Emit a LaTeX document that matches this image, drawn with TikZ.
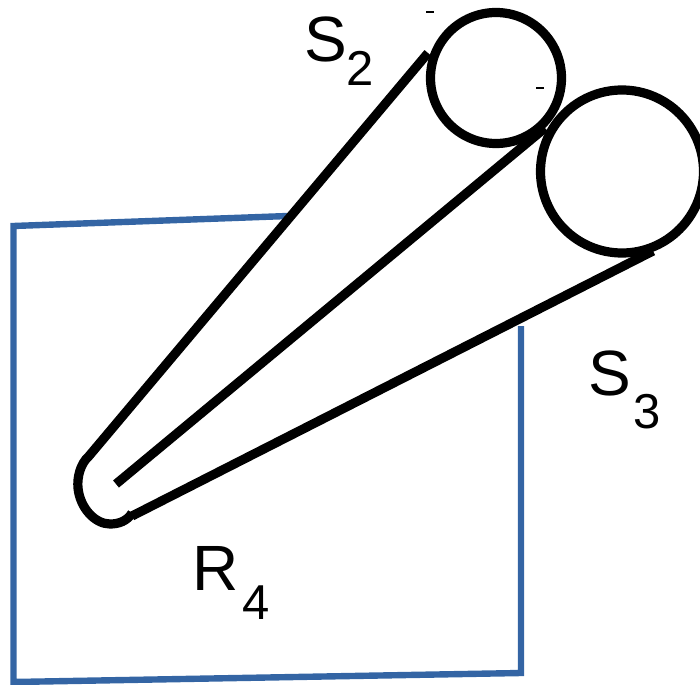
\documentclass[tikz,border=0pt]{standalone}
\usepackage{fontspec}
\setmainfont{Liberation Sans}
\begin{document}
\begin{tikzpicture}[x=1pt,y=-1pt,
  blk/.style={draw=black,line width=9.2pt,line join=round},
  blu/.style={draw=bluecol,line width=6.4pt,line join=miter},
  lab/.style={anchor=base west,inner sep=0pt,font=\fontsize{64}{64}\selectfont},
  subl/.style={anchor=base west,inner sep=0pt,font=\fontsize{49}{49}\selectfont},
  tick/.style={draw=black,line width=1.2pt}]
\definecolor{bluecol}{HTML}{3465A4}
\useasboundingbox (0,0) rectangle (700,684);
\clip (0,0) rectangle (700,684);
\node[lab] (s2) at (304,61.5) {S};
\node[subl] (s2i) at (346.5,86) {2};
\node[lab] (s3) at (588,395.5) {S};
\node[subl] (s3i) at (633,428) {3};
\node[lab] (r4) at (192.5,590) {R};
\node[subl] (r4i) at (242,619) {4};
\coordinate (b1) at (288,216);
\coordinate (b2) at (13.5,226);
\coordinate (b3) at (13.5,682);
\coordinate (b4) at (521,673);
\coordinate (b5) at (521,326);
\draw[blu] (b1) -- (b2) -- (b3) -- (b4) -- (b5);
\node[circle,draw=black,line width=9.2pt,minimum size=131pt,inner sep=0pt] (c1) at (496,78) {};
\node[circle,draw=black,line width=9.2pt,minimum size=163pt,inner sep=0pt] (c2) at (622,171.5) {};
\coordinate (t1) at (428,53);
\coordinate (t2) at (545,128);
\coordinate (t3) at (653,251);
\coordinate (a1) at (89,456);
\coordinate (a2) at (116,484);
\coordinate (a3) at (132,516);
\draw[blk] (t1) -- (a1) .. controls (80,464) and (77,478) .. (78,488)
  .. controls (80,508) and (95,524) .. (110,524)
  .. controls (119,524) and (127,521) .. (132,513);
\draw[blk] (t2) -- (a2);
\draw[blk] (t3) -- (a3);
\coordinate (d1) at (426,12); \coordinate (d2) at (434,12);
\coordinate (d3) at (536,88); \coordinate (d4) at (544,88);
\draw[tick] (d1) -- (d2);
\draw[tick] (d3) -- (d4);
\end{tikzpicture}
\end{document}
